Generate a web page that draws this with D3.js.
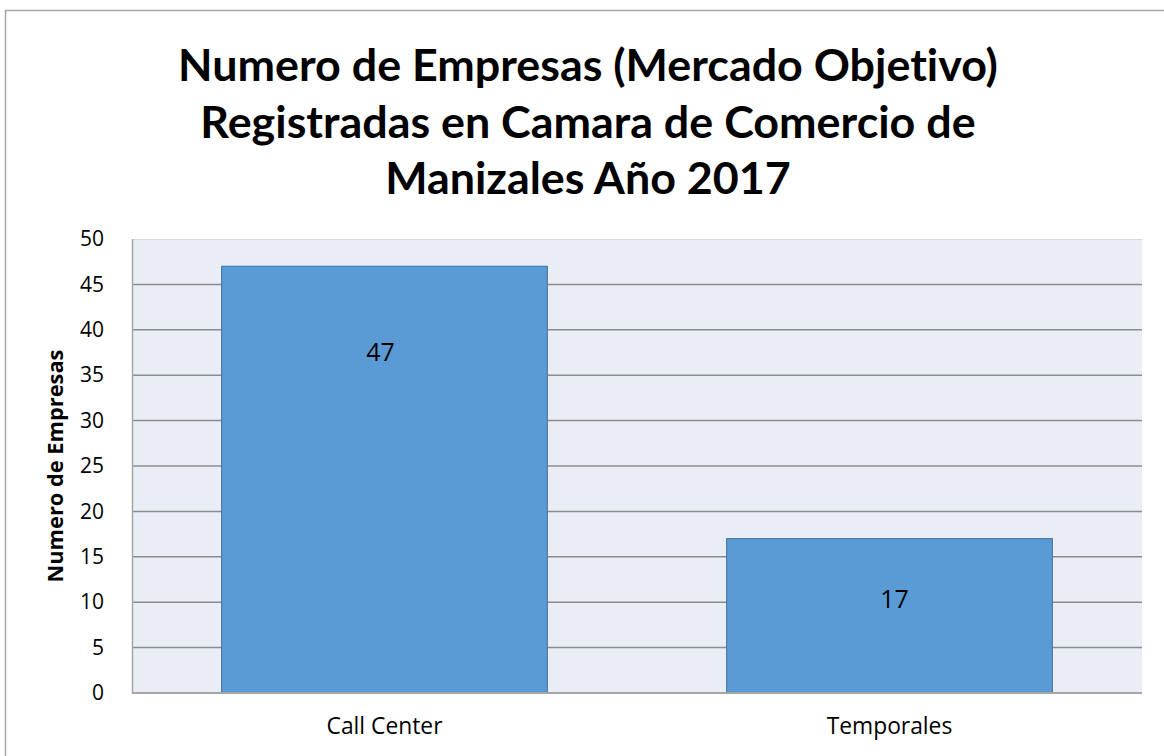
<!DOCTYPE html>
<html>
<head>
<meta charset="utf-8">
<script src="https://cdn.jsdelivr.net/npm/d3@7"></script>
<style>
  html, body { margin: 0; padding: 0; background: #fff; }
  svg { display: block; }
  text { font-family: "Open Sans", sans-serif; font-variant-ligatures: none; }
</style>
</head>
<body>
<svg id="chart"></svg>
<script>
const categories = ["Call Center", "Temporales"];
const empresas = [47, 17];
const yTicks = [0, 5, 10, 15, 20, 25, 30, 35, 40, 45, 50];
const titleLines = [
  "Numero de Empresas (Mercado Objetivo)",
  "Registradas en Camara de Comercio de",
  "Manizales Año 2017"
];
const yAxisTitle = "Numero de Empresas";

const width = 1164, height = 756;
const margin = { top: 239, right: 22, bottom: 63, left: 132 };
const innerW = width - margin.left - margin.right;
const innerH = height - margin.top - margin.bottom;

// scale a selection's font so that its first node is `target` px wide
function fitWidth(sel, size, target) {
  sel.attr("font-size", size);
  const w = sel.node().getComputedTextLength();
  sel.attr("font-size", size * target / w);
}

const svg = d3.select("#chart")
  .attr("width", width)
  .attr("height", height);

// outer chart border
svg.append("rect")
  .attr("x", 5.5).attr("y", 10.5)
  .attr("width", width + 10).attr("height", height + 10)
  .attr("fill", "#fff")
  .attr("stroke", "#a6a6a6")
  .attr("stroke-width", 1.5);

// title
const title = svg.append("g")
  .selectAll("text")
  .data(titleLines)
  .join("text")
    .attr("x", 588)
    .attr("y", (d, i) => 81 + i * 56.5)
    .attr("text-anchor", "middle")
    .attr("font-weight", "bold")
    .attr("fill", "#000")
    .style("font-family", "Lato, 'Open Sans', sans-serif")
    .text(d => d);
fitWidth(title, 44, 820);

const x = d3.scaleBand()
  .domain(categories)
  .range([0, innerW])
  .paddingInner(0.355)
  .paddingOuter(0.1775);

const y = d3.scaleLinear()
  .domain([0, 50])
  .range([innerH, 0]);

const g = svg.append("g")
  .attr("transform", `translate(${margin.left},${margin.top})`);

g.append("rect")
  .attr("width", innerW)
  .attr("height", innerH)
  .attr("fill", "#e9edf6");

// gridlines
g.append("g")
  .selectAll("line")
  .data(yTicks.filter(t => t > 0 && t < 50))
  .join("line")
    .attr("x1", 0).attr("x2", innerW)
    .attr("y1", d => y(d)).attr("y2", d => y(d))
    .attr("stroke", "#8c8c8c")
    .attr("stroke-width", 1.5);

g.append("line")
  .attr("x1", 0).attr("x2", innerW)
  .attr("y1", 0.5).attr("y2", 0.5)
  .attr("stroke", "#d3d8e2");

// bars
g.append("g")
  .selectAll("rect")
  .data(empresas)
  .join("rect")
    .attr("x", (d, i) => x(categories[i]))
    .attr("y", d => y(d))
    .attr("width", x.bandwidth())
    .attr("height", d => innerH - y(d))
    .attr("fill", "#5b9bd5")
    .attr("stroke", "#41719c")
    .attr("stroke-width", 1);

// value labels (dragged position in the original)
const labelNudge = [[-4, 95], [5, 69]];
g.append("g")
  .selectAll("text")
  .data(empresas)
  .join("text")
    .attr("x", (d, i) => x(categories[i]) + x.bandwidth() / 2 + labelNudge[i][0])
    .attr("y", (d, i) => y(d) + labelNudge[i][1])
    .attr("text-anchor", "middle")
    .attr("font-size", 25)
    .attr("fill", "#000")
    .text(d => d);

// y axis
const yAxis = g.append("g")
  .call(d3.axisLeft(y).tickValues(yTicks).tickSize(0).tickPadding(28));
yAxis.select(".domain").remove();
yAxis.selectAll("text")
  .attr("font-size", 21)
  .attr("fill", "#000")
  .attr("font-family", "'Open Sans', sans-serif");

g.append("line")
  .attr("x1", 0.5).attr("x2", 0.5)
  .attr("y1", 0).attr("y2", innerH)
  .attr("stroke", "#a6a6a6")
  .attr("stroke-width", 1.5);

// x axis
const xAxis = g.append("g")
  .attr("transform", `translate(0,${innerH})`)
  .call(d3.axisBottom(x).tickSize(0).tickPadding(25));
xAxis.select(".domain").remove();
const xLabels = xAxis.selectAll("text")
  .attr("fill", "#000")
  .attr("font-family", "'Open Sans', sans-serif");
fitWidth(xLabels, 20, 116);

g.append("line")
  .attr("x1", 0).attr("x2", innerW)
  .attr("y1", innerH).attr("y2", innerH)
  .attr("stroke", "#a6a6a6")
  .attr("stroke-width", 2);

// y axis title
const yTitle = svg.append("text")
  .attr("transform", `translate(63,${margin.top + innerH / 2}) rotate(-90)`)
  .attr("text-anchor", "middle")
  .attr("font-weight", "bold")
  .attr("fill", "#000")
  .text(yAxisTitle);
fitWidth(yTitle, 19, 233);
</script>
</body>
</html>
